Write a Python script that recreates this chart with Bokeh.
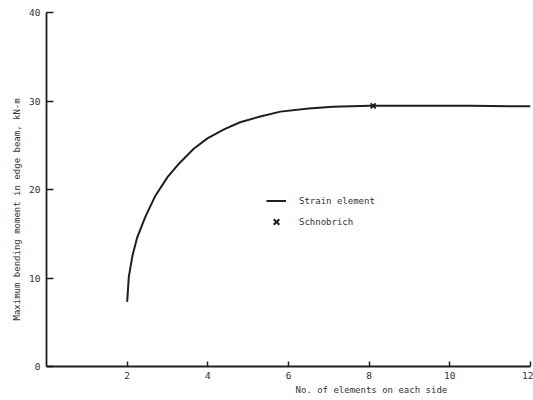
from bokeh.plotting import figure
from bokeh.models import FixedTicker, Legend, LegendItem, Range1d, Title
from bokeh.embed import file_html
from bokeh.resources import INLINE

# Data
elements = [2.0, 2.04, 2.13, 2.25, 2.45, 2.7, 3.0, 3.3, 3.65, 4.0, 4.4,
            4.8, 5.3, 5.8, 6.5, 7.1, 8.0, 9.3, 10.5, 12.0]
moment = [7.3, 10.1, 12.5, 14.6, 16.9, 19.3, 21.4, 23.0, 24.6, 25.8, 26.8,
          27.6, 28.25, 28.8, 29.15, 29.35, 29.45, 29.45, 29.45, 29.4]
schnobrich_x = [8.1]
schnobrich_y = [29.45]

x_ticks = [2, 4, 6, 8, 10, 12]
y_ticks = [0, 10, 20, 30, 40]

FONT = "DejaVu Sans Mono"
INK = "#1e1e1e"
TXT = "#333333"

p = figure(width=533, height=400, output_backend="svg", toolbar_location=None,
           x_range=Range1d(0, 12), y_range=Range1d(0, 40),
           min_border_left=46, min_border_right=3, min_border_top=12, min_border_bottom=34)
p.outline_line_color = None
p.xgrid.visible = False
p.ygrid.visible = False

line = p.line(elements, moment, line_color=INK, line_width=2, line_join="round")
pts = p.scatter(schnobrich_x, schnobrich_y, marker="x", size=7, line_color=INK, line_width=2)

for ax in (p.xaxis[0], p.yaxis[0]):
    ax.axis_line_color = INK
    ax.axis_line_width = 1.8
    ax.major_tick_line_color = INK
    ax.major_tick_line_width = 1.5
    ax.major_tick_out = 0
    ax.minor_tick_line_color = None
    ax.major_label_text_font = FONT
    ax.major_label_text_font_size = "9.5px"
    ax.major_label_text_color = TXT

p.xaxis.ticker = FixedTicker(ticks=x_ticks)
p.yaxis.ticker = FixedTicker(ticks=y_ticks)
p.xaxis.major_tick_in = 5
p.yaxis.major_tick_in = 7
p.xaxis.major_label_standoff = 5
p.yaxis.major_label_standoff = 6

p.add_layout(Title(text="No. of elements on each side", align="left", offset=249,
                   text_font=FONT, text_font_size="9px", text_font_style="normal",
                   text_color=TXT, standoff=2), "below")
p.add_layout(Title(text="Maximum bending moment in edge beam, kN-m", align="left", offset=46,
                   text_font=FONT, text_font_size="9px", text_font_style="normal",
                   text_color=TXT, standoff=10), "left")

legend = Legend(items=[LegendItem(label="Strain element", renderers=[line]),
                       LegendItem(label="Schnobrich", renderers=[pts])],
                location=(220, 134), orientation="vertical",
                label_text_font=FONT, label_text_font_size="9px", label_text_color=TXT,
                glyph_width=20, glyph_height=21, label_height=21, label_standoff=13,
                padding=0, margin=0, spacing=0,
                border_line_alpha=0, background_fill_alpha=0)
p.add_layout(legend)

open("out.html", "w").write(file_html(p, INLINE))
